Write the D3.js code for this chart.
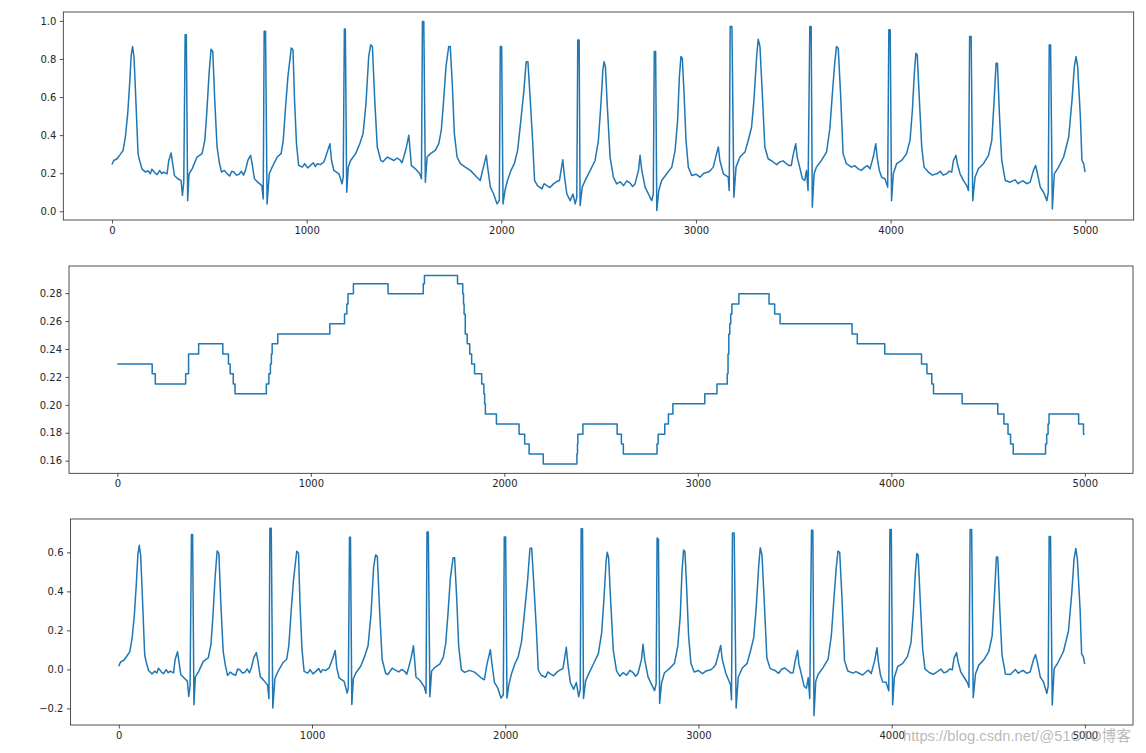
<!DOCTYPE html>
<html><head><meta charset="utf-8">
<script src="https://cdn.jsdelivr.net/npm/d3@7"></script>
<style>
body{margin:0;background:#fff}
svg{display:block}
</style>
</head><body>
<svg id="c" width="1146" height="753"></svg>
<script>
// ---- data ----
const sampleIdx = [0,9,26,43,57,69,81,91,99,106,113,120,127,134,142,154,172,185,197,205,214,222,232,245,256,266,283,292,304,312,321,338,355,362,369,376,382,389,396,412,437,463,477,487,499,509,518,528,540,551,563,577,592,605,615,626,640,652,665,676,686,698,712,720,732,749,770,777,782,789,797,808,823,849,869,880,892,904,921,930,938,948,959,978,990,1005,1020,1035,1045,1055,1070,1089,1106,1120,1128,1140,1166,1182,1188,1194,1199,1206,1214,1226,1252,1273,1290,1305,1319,1329,1338,1350,1363,1381,1392,1415,1431,1449,1465,1482,1490,1499,1513,1525,1531,1538,1559,1581,1590,1595,1602,1610,1619,1636,1661,1679,1692,1704,1716,1730,1738,1749,1759,1773,1790,1815,1841,1875,1892,1906,1923,1930,1944,1961,1978,1990,1995,2002,2009,2019,2032,2050,2067,2084,2097,2115,2128,2137,2149,2161,2171,2186,2209,2220,2234,2250,2268,2283,2299,2316,2325,2337,2354,2368,2380,2388,2393,2400,2405,2416,2431,2457,2482,2499,2511,2522,2528,2535,2545,2559,2576,2593,2610,2628,2645,2662,2675,2687,2705,2713,2722,2739,2756,2773,2781,2786,2793,2799,2809,2824,2850,2876,2893,2906,2915,2923,2930,2939,2949,2961,2978,3000,3021,3040,3064,3075,3089,3106,3115,3123,3141,3166,3171,3176,3185,3195,3206,3226,3252,3269,3286,3298,3312,3320,3329,3341,3354,3371,3397,3415,3430,3448,3465,3478,3490,3499,3513,3520,3533,3547,3559,3568,3576,3585,3592,3598,3607,3619,3645,3671,3688,3701,3713,3722,3731,3743,3756,3773,3799,3815,3834,3850,3868,3880,3894,3911,3924,3931,3942,3954,3971,3985,3991,3998,4005,4014,4031,4057,4082,4100,4112,4122,4130,4137,4148,4160,4172,4194,4215,4237,4255,4270,4288,4300,4314,4323,4336,4343,4357,4374,4391,4400,4406,4414,4422,4434,4451,4477,4503,4520,4532,4542,4549,4559,4571,4589,4614,4640,4655,4666,4680,4700,4717,4734,4745,4755,4769,4786,4803,4810,4815,4822,4831,4841,4863,4889,4915,4932,4944,4953,4961,4975,4983,4992,4999];

const rawSignal = [0.246,0.267,0.276,0.299,0.320,0.390,0.514,0.672,0.821,0.865,0.813,0.654,0.478,0.303,0.267,0.223,0.206,0.213,0.197,0.221,0.211,0.200,0.193,0.214,0.198,0.206,0.197,0.267,0.306,0.250,0.188,0.171,0.162,0.083,0.153,0.927,0.927,0.056,0.197,0.223,0.285,0.303,0.373,0.514,0.725,0.851,0.839,0.584,0.338,0.259,0.206,0.215,0.197,0.185,0.210,0.206,0.190,0.193,0.210,0.190,0.215,0.267,0.294,0.250,0.171,0.153,0.135,0.065,0.945,0.945,0.039,0.197,0.232,0.285,0.303,0.373,0.549,0.707,0.857,0.848,0.584,0.355,0.241,0.232,0.250,0.228,0.241,0.255,0.235,0.250,0.245,0.259,0.311,0.355,0.267,0.215,0.197,0.144,0.179,0.957,0.957,0.100,0.232,0.267,0.303,0.355,0.408,0.566,0.813,0.874,0.865,0.584,0.338,0.267,0.260,0.285,0.276,0.267,0.280,0.267,0.255,0.285,0.338,0.400,0.329,0.241,0.223,0.197,0.171,0.997,0.997,0.153,0.285,0.303,0.320,0.355,0.426,0.584,0.760,0.865,0.865,0.654,0.408,0.285,0.250,0.232,0.215,0.179,0.162,0.223,0.294,0.232,0.127,0.091,0.039,0.056,0.865,0.865,0.039,0.109,0.162,0.215,0.250,0.320,0.443,0.619,0.786,0.786,0.584,0.373,0.162,0.135,0.118,0.145,0.135,0.125,0.144,0.155,0.162,0.271,0.179,0.091,0.056,0.091,0.039,0.074,0.900,0.900,0.030,0.127,0.162,0.215,0.267,0.373,0.549,0.742,0.786,0.760,0.549,0.285,0.179,0.144,0.155,0.135,0.160,0.148,0.130,0.144,0.215,0.294,0.215,0.127,0.091,0.056,0.091,0.839,0.839,0.004,0.109,0.162,0.197,0.232,0.320,0.478,0.707,0.813,0.804,0.619,0.373,0.232,0.188,0.195,0.179,0.200,0.206,0.215,0.232,0.303,0.338,0.267,0.197,0.179,0.109,0.971,0.971,0.074,0.232,0.285,0.311,0.373,0.443,0.584,0.813,0.904,0.865,0.619,0.338,0.276,0.259,0.245,0.259,0.265,0.250,0.240,0.241,0.294,0.355,0.285,0.232,0.171,0.162,0.215,0.109,0.971,0.971,0.021,0.197,0.232,0.267,0.311,0.434,0.619,0.777,0.865,0.857,0.619,0.303,0.250,0.232,0.240,0.223,0.215,0.232,0.240,0.223,0.285,0.355,0.285,0.215,0.179,0.171,0.127,0.953,0.953,0.056,0.197,0.250,0.267,0.303,0.373,0.531,0.725,0.830,0.821,0.584,0.338,0.232,0.206,0.190,0.197,0.210,0.190,0.197,0.210,0.206,0.267,0.294,0.250,0.197,0.162,0.135,0.109,0.918,0.918,0.056,0.179,0.223,0.250,0.294,0.373,0.584,0.777,0.777,0.514,0.267,0.162,0.153,0.165,0.145,0.153,0.160,0.145,0.153,0.215,0.241,0.197,0.127,0.100,0.056,0.100,0.874,0.874,0.012,0.197,0.232,0.285,0.390,0.584,0.760,0.813,0.760,0.496,0.267,0.250,0.206];

const correctedSignal = [0.017,0.038,0.047,0.070,0.091,0.161,0.285,0.443,0.592,0.636,0.584,0.425,0.249,0.074,0.038,-0.006,-0.023,-0.009,-0.018,0.006,-0.004,-0.015,-0.022,-0.001,-0.017,-0.009,-0.018,0.052,0.091,0.035,-0.027,-0.044,-0.060,-0.139,-0.084,0.691,0.691,-0.181,-0.040,-0.014,0.041,0.059,0.129,0.270,0.481,0.607,0.595,0.340,0.094,0.023,-0.031,-0.014,-0.025,-0.030,0.002,-0.002,-0.018,-0.015,0.002,-0.018,0.007,0.059,0.086,0.042,-0.037,-0.055,-0.080,-0.150,0.723,0.723,-0.198,-0.047,-0.012,0.034,0.052,0.122,0.298,0.456,0.606,0.597,0.333,0.104,-0.010,-0.019,-0.001,-0.023,-0.010,0.004,-0.016,-0.001,-0.006,0.008,0.053,0.097,0.009,-0.043,-0.061,-0.121,-0.093,0.678,0.678,-0.180,-0.048,-0.020,0.016,0.068,0.121,0.279,0.526,0.587,0.578,0.297,0.051,-0.020,-0.027,0.006,-0.004,-0.013,0.000,-0.013,-0.025,0.006,0.059,0.121,0.050,-0.039,-0.057,-0.090,-0.122,0.704,0.704,-0.140,-0.008,0.010,0.027,0.062,0.133,0.291,0.467,0.572,0.572,0.361,0.121,-0.002,-0.015,-0.005,-0.014,-0.043,-0.053,0.030,0.101,0.039,-0.067,-0.095,-0.147,-0.130,0.679,0.679,-0.147,-0.077,-0.024,0.029,0.064,0.141,0.264,0.447,0.621,0.621,0.419,0.208,-0.003,-0.030,-0.040,-0.013,-0.023,-0.033,-0.014,-0.003,0.004,0.113,0.021,-0.067,-0.102,-0.067,-0.140,-0.105,0.721,0.721,-0.149,-0.059,-0.024,0.029,0.081,0.187,0.363,0.556,0.600,0.574,0.363,0.099,-0.007,-0.035,-0.017,-0.030,-0.005,-0.017,-0.035,-0.021,0.050,0.129,0.050,-0.038,-0.074,-0.109,-0.074,0.674,0.667,-0.175,-0.070,-0.017,0.004,0.031,0.119,0.277,0.506,0.612,0.603,0.418,0.172,0.031,-0.013,-0.006,-0.022,-0.008,-0.002,0.007,0.024,0.088,0.123,0.052,-0.018,-0.079,-0.156,0.699,0.699,-0.198,-0.040,0.006,0.031,0.093,0.163,0.304,0.533,0.624,0.585,0.339,0.058,0.004,-0.006,-0.020,0.001,0.007,-0.008,-0.018,-0.017,0.036,0.097,0.027,-0.026,-0.087,-0.096,-0.043,-0.149,0.713,0.713,-0.237,-0.061,-0.026,0.009,0.053,0.176,0.361,0.519,0.607,0.599,0.361,0.045,-0.008,-0.019,-0.011,-0.021,-0.029,-0.012,-0.004,-0.021,0.041,0.111,0.041,-0.029,-0.065,-0.066,-0.110,0.717,0.717,-0.181,-0.040,0.014,0.031,0.067,0.137,0.295,0.489,0.594,0.585,0.348,0.109,0.003,-0.016,-0.025,-0.011,0.002,-0.018,-0.011,0.002,-0.002,0.059,0.086,0.042,-0.011,-0.039,-0.066,-0.092,0.717,0.717,-0.145,-0.022,0.022,0.049,0.093,0.172,0.383,0.576,0.576,0.321,0.074,-0.024,-0.026,0.000,-0.020,-0.012,-0.005,-0.020,-0.012,0.050,0.076,0.032,-0.038,-0.065,-0.123,-0.086,0.681,0.681,-0.182,0.004,0.039,0.092,0.197,0.391,0.567,0.620,0.567,0.310,0.081,0.064,0.027];

const baselineStepX = [0,180,196,353,368,420,545,574,583,599,608,770,783,791,796,800,829,1098,1174,1186,1192,1220,1399,1581,1587,1758,1785,1789,1792,1798,1808,1821,1831,1846,1883,1894,1898,1902,1959,2076,2105,2128,2201,2375,2378,2380,2406,2583,2605,2615,2789,2795,2829,2848,2871,3036,3099,3152,3156,3160,3165,3170,3176,3212,3368,3397,3425,3797,3824,3966,4156,4184,4209,4218,4366,4550,4582,4603,4616,4630,4797,4803,4810,4815,4968,4993,4999];
const baselineStepY = [0.2293,0.2222,0.2150,0.2222,0.2365,0.2437,0.2365,0.2293,0.2222,0.2150,0.2080,0.2150,0.2222,0.2293,0.2365,0.2437,0.2508,0.2580,0.2650,0.2723,0.2795,0.2867,0.2795,0.2867,0.2927,0.2867,0.2795,0.2723,0.2650,0.2508,0.2437,0.2365,0.2293,0.2222,0.2150,0.2080,0.2007,0.1935,0.1863,0.1790,0.1720,0.1648,0.1577,0.1648,0.1720,0.1790,0.1863,0.1790,0.1720,0.1648,0.1720,0.1790,0.1863,0.1935,0.2007,0.2080,0.2150,0.2222,0.2365,0.2508,0.2580,0.2650,0.2723,0.2795,0.2723,0.2650,0.2580,0.2508,0.2437,0.2365,0.2293,0.2222,0.2150,0.2080,0.2007,0.1935,0.1863,0.1790,0.1720,0.1648,0.1720,0.1790,0.1863,0.1935,0.1863,0.1790,0.1790];

const xTickValues = [0,1000,2000,3000,4000,5000];
const rawYTicks = [0.0,0.2,0.4,0.6,0.8,1.0];
const baseYTicks = [0.16,0.18,0.20,0.22,0.24,0.26,0.28];
const corrYTicks = [-0.2,0.0,0.2,0.4,0.6];
const watermarkText = 'https://blog.csdn.net/@51CTO博客';

// ---- drawing ----
const svg = d3.select('#c');
const FONT = '"DejaVu Sans", sans-serif';
const LINE = '#1f77b4';

function padded(ext){const r=ext[1]-ext[0];return [ext[0]-0.05*r, ext[1]+0.05*r];}

function panel(box, xs, ys, yTicks, yFmt, curve){
  const g = svg.append('g');
  const x = d3.scaleLinear().domain(padded(d3.extent(xs))).range([box.l, box.r]);
  const y = d3.scaleLinear().domain(padded(d3.extent(ys))).range([box.b, box.t]);
  const line = d3.line().x((d,i)=>x(xs[i])).y(d=>y(d)).curve(curve);
  g.append('path').datum(ys).attr('d', line)
    .attr('fill','none').attr('stroke',LINE).attr('stroke-width',1.5)
    .attr('stroke-linejoin','round');
  const xa = g.append('g').attr('transform',`translate(0,${box.b})`)
    .call(d3.axisBottom(x).tickValues(xTickValues).tickSize(3.5).tickPadding(3.5).tickFormat(d3.format('d')));
  const ya = g.append('g').attr('transform',`translate(${box.l},0)`)
    .call(d3.axisLeft(y).tickValues(yTicks).tickSize(3.5).tickPadding(3.5).tickFormat(yFmt));
  [xa,ya].forEach(a=>{
    a.select('.domain').remove();
    a.attr('font-family',FONT).attr('font-size',10).attr('color','#262626');
    a.selectAll('line').attr('stroke-width',0.8);
  });
  g.append('rect').attr('x',box.l).attr('y',box.t)
    .attr('width',box.r-box.l).attr('height',box.b-box.t)
    .attr('fill','none').attr('stroke','#262626').attr('stroke-width',0.8);
}

panel({l:63.3,r:1133.7,t:12,b:220}, sampleIdx, rawSignal, rawYTicks, d3.format('.1f'), d3.curveLinear);
panel({l:69,r:1133,t:266,b:473.3}, baselineStepX, baselineStepY, baseYTicks, d3.format('.2f'), d3.curveStepAfter);
panel({l:70.5,r:1133,t:519,b:725}, sampleIdx, correctedSignal, corrYTicks, d3.format('.1f'), d3.curveLinear);

// watermark (semi-transparent, overlaps the axis labels as in the source image)
svg.append('text').attr('x',903).attr('y',741)
  .attr('font-family','"Liberation Sans", "Noto Sans CJK SC", sans-serif')
  .attr('font-size',14.5).attr('fill','#9a9a9a').attr('fill-opacity',0.7)
  .attr('textLength',228).attr('lengthAdjust','spacingAndGlyphs')
  .text(watermarkText);
</script>
</body></html>
